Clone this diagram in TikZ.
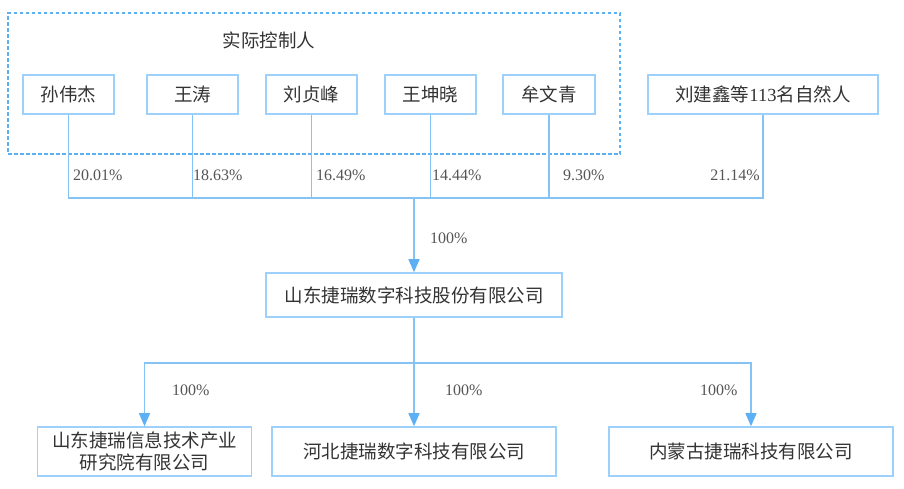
\documentclass[tikz,border=0pt]{standalone}
\usepackage{fontspec}
\setmainfont{Liberation Serif}
\newfontfamily\cjk{Noto Sans CJK SC}
\usetikzlibrary{arrows.meta}
\definecolor{boxline}{HTML}{9DD0FB}
\definecolor{conn}{HTML}{86C3F5}
\definecolor{arrowc}{HTML}{5EB0F5}
\definecolor{dashc}{HTML}{5AB0F0}
\definecolor{txt}{HTML}{333333}
\definecolor{pct}{HTML}{555555}
\tikzset{
  entity/.style={draw=boxline, line width=1.6pt, fill=white, inner sep=0pt,
    minimum height=39pt, text=txt, align=center,
    font=\cjk\fontsize{18.5}{22}\selectfont},
  link/.style={draw=conn, line width=1.2pt},
  arr/.style={link, -{Triangle[length=13pt,width=11pt,fill=arrowc,color=arrowc]}},
  pctlabel/.style={text=pct, font=\fontsize{16}{18}\selectfont, inner sep=0pt},
  groupbox/.style={draw=dashc, line width=1.6pt, dash pattern=on 3.5pt off 2.5pt}
}
\begin{document}
\begin{tikzpicture}[x=1pt,y=-1pt]
\useasboundingbox (0,0) rectangle (904,488);
\fill[white] (0,0) rectangle (904,488);
% controller group
\node[groupbox, draw, minimum width=612pt, minimum height=141pt, inner sep=0pt] (grp) at (314,83.5) {};
\node[text=txt, font=\cjk\fontsize{18.5}{22}\selectfont, inner sep=0pt] (grptitle) at (269,40) {实际控制人};
% shareholders
\node[entity, minimum width=91pt] (p1) at (68.5,94.5) {孙伟杰};
\node[entity, minimum width=91pt] (p2) at (192.5,94.5) {王涛};
\node[entity, minimum width=91pt] (p3) at (311.5,94.5) {刘贞峰};
\node[entity, minimum width=91pt] (p4) at (430.5,94.5) {王坤晓};
\node[entity, minimum width=92pt] (p5) at (549,94.5) {牟文青};
\node[entity, minimum width=230pt] (p6) at (763,94.5) {刘建鑫等{\fontspec{Liberation Serif}113}名自然人};
% main company
\node[entity, minimum width=296pt, minimum height=44pt] (main) at (414,295) {山东捷瑞数字科技股份有限公司};
% subsidiaries
\node[entity, minimum width=214pt, minimum height=49pt, font=\cjk\fontsize{18.5}{22}\selectfont] (c1) at (144.5,451.5) {山东捷瑞信息技术产业\\研究院有限公司};
\node[entity, minimum width=284pt, minimum height=49pt] (c2) at (414,451.5) {河北捷瑞数字科技有限公司};
\node[entity, minimum width=284pt, minimum height=49pt] (c3) at (751,451.5) {内蒙古捷瑞科技有限公司};
% upper connectors
\coordinate (bus) at (414,198);
\draw[link] (p1.south) |- (bus);
\draw[link] (p2.south) |- (bus);
\draw[link] (p3.south) |- (bus);
\draw[link] (p4.south) |- (bus);
\draw[link] (p5.south) |- (bus);
\draw[link] (p6.south) |- (bus);
\draw[arr] (bus) -- (main.north);
% lower connectors
\coordinate (bus2) at (414,363);
\draw[link] (main.south) -- (bus2);
\draw[arr] (bus2) -| (c1.north);
\draw[arr] (bus2) -- (c2.north);
\draw[arr] (bus2) -| (c3.north);
% labels
\node[pctlabel, anchor=west] (l1) at (73,175) {20.01\%};
\node[pctlabel, anchor=west] (l2) at (193,175) {18.63\%};
\node[pctlabel, anchor=west] (l3) at (316,175) {16.49\%};
\node[pctlabel, anchor=west] (l4) at (432,175) {14.44\%};
\node[pctlabel, anchor=west] (l5) at (563,175) {9.30\%};
\node[pctlabel, anchor=east] (l6) at (760,175) {21.14\%};
\node[pctlabel, anchor=west] (l7) at (430,238) {100\%};
\node[pctlabel, anchor=west] (l8) at (172,390) {100\%};
\node[pctlabel, anchor=west] (l9) at (445,390) {100\%};
\node[pctlabel, anchor=west] (l10) at (700,390) {100\%};
\end{tikzpicture}
\end{document}
